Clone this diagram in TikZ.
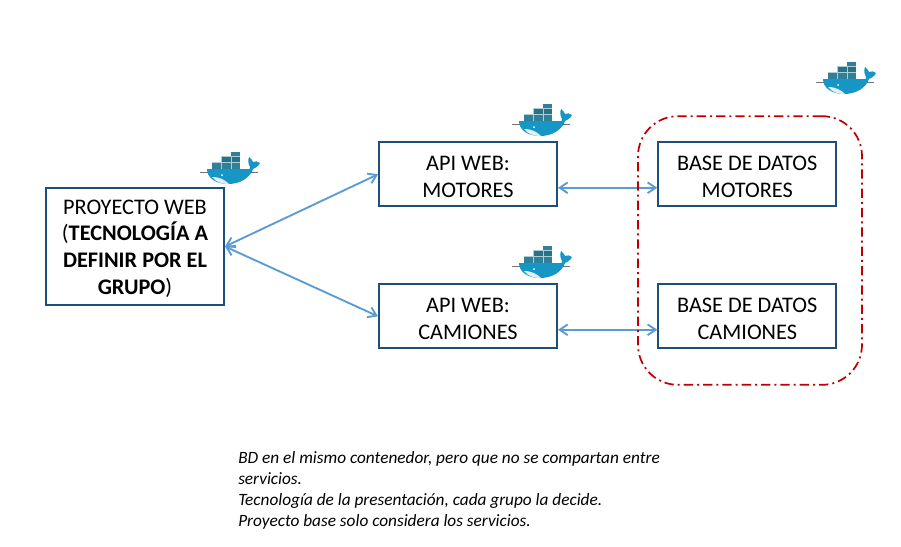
\documentclass[tikz,border=0pt]{standalone}
\usepackage{fontspec}
\setmainfont{Carlito}
\usetikzlibrary{arrows.meta}
\definecolor{boxc}{HTML}{1F4E79}
\definecolor{arrc}{HTML}{5B9BD5}
\definecolor{redc}{HTML}{C00000}
\definecolor{whalec}{HTML}{1596C4}
\definecolor{contc}{HTML}{2F8098}
\newcommand{\topgap}{\rule{0pt}{14.2pt}}
\tikzset{
  x=0.75pt,y=-0.75pt,
  boxn/.style={draw=boxc,line width=1.5pt,fill=white,minimum width=133.5pt,minimum height=48pt,inner sep=0pt,align=center,font=\fontsize{16.7pt}{20.2pt}\selectfont,text=black},
  link/.style={draw=arrc,line width=1.4pt,{Straight Barb[length=6pt,width=8pt]}-{Straight Barb[length=6pt,width=8pt]}},
  whale/.pic={
    \draw[black!55,line width=0.5pt] (10,32) -- (68,32);
    \fill[contc] (22,22) rectangle (50,30);
    \fill[contc!88!black] (31,16) rectangle (50,22);
    \fill[contc] (41,12) rectangle (50,16);
    \foreach \x in {31,41}{\draw[white!60!contc,line width=0.15pt] (\x,16) -- (\x,30);}
    \draw[white!60!contc,line width=0.15pt] (22,22) -- (50,22) (31,16)--(50,16);
    \fill[whalec] (17,29) -- (57,29) .. controls (59,30) and (61,29) .. (60,27) .. controls (58,24) and (58,20) .. (59,17)
       .. controls (61,18) and (62,20) .. (63,22) .. controls (65,21) and (68,21) .. (70,23)
       .. controls (68,27) and (65,28) .. (63,29) .. controls (60,38) and (50,44) .. (38,44)
       .. controls (26,44) and (17,38) .. (17,29) -- cycle;
    \fill[white!85!whalec] (22,37) .. controls (30,37) and (35,40) .. (39,44) .. controls (31,44) and (26,42) .. (22,37) -- cycle;
    \fill[white] (32,35) circle (1);
  }
}
\begin{document}
\begin{tikzpicture}
\useasboundingbox (0,0) rectangle (901,547);
\fill[white] (0,0) rectangle (901,547);
\pic at (190,140) {whale};
\pic at (502,92) {whale};
\pic at (502,234) {whale};
\pic at (806,50) {whale};
\node[boxn,minimum height=87.5pt] (web) at (135,246.5) {\topgap PROYECTO WEB\\(\textbf{TECNOLOGÍA A}\\\textbf{DEFINIR POR EL}\\\textbf{GRUPO})};
\node[boxn] (apim) at (468,174.3) {\topgap API WEB:\\MOTORES};
\node[boxn] (apic) at (468,316.3) {\topgap API WEB:\\CAMIONES};
\node[boxn] (bdm) at (747.3,174.3) {\topgap BASE DE DATOS\\MOTORES};
\node[boxn] (bdc) at (747.3,316.3) {\topgap BASE DE DATOS\\CAMIONES};
\draw[link] (web.east) -- (apim.west);
\draw[link] (web.east) -- (apic.west);
\draw[link] ([yshift=-10.1pt]apim.east) -- ([yshift=-10.1pt]bdm.west);
\draw[link] ([yshift=-10.1pt]apic.east) -- ([yshift=-10.1pt]bdc.west);
\node[draw=redc,line width=1.3pt,rounded corners=30pt,minimum width=168pt,minimum height=201.5pt,inner sep=0pt,dash pattern=on 7pt off 3pt on 1.5pt off 3pt] (grp) at (750,250.5) {};
\node[anchor=north west,inner sep=0pt,align=left,font=\fontsize{12.95pt}{15.8pt}\selectfont\itshape] (note) at (238,451.5) {BD en el mismo contenedor, pero que no se compartan entre\\servicios.\\Tecnología de la presentación, cada grupo la decide.\\Proyecto base solo considera los servicios.};
\end{tikzpicture}
\end{document}
